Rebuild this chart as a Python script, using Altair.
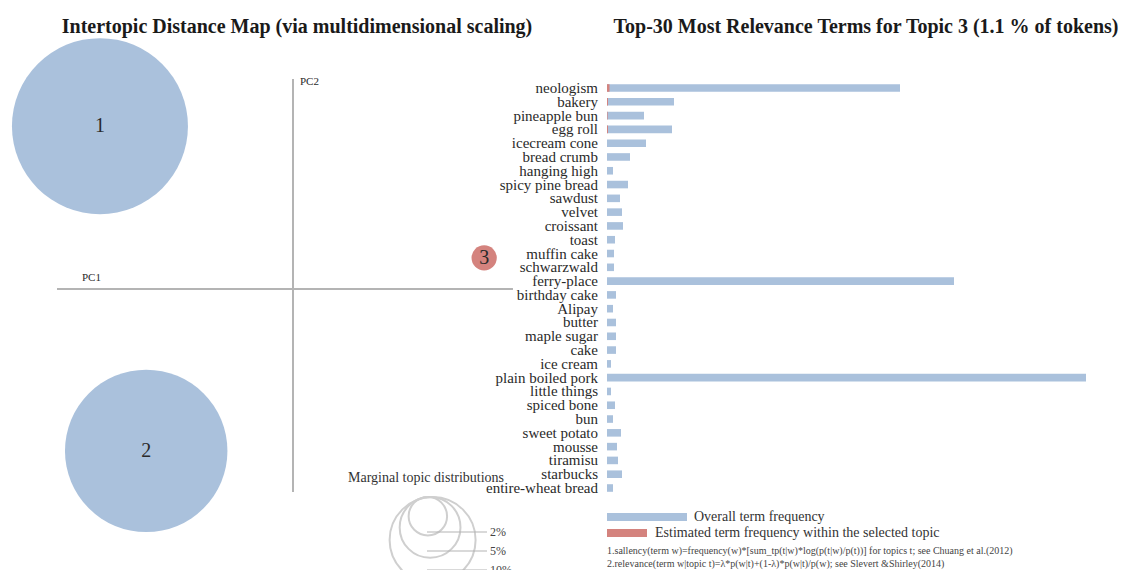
import altair as alt
import pandas as pd

# ---------------- data ----------------
topics = ["1", "2", "3"]
topic_pc1 = [-0.409, -0.311, 0.405]
topic_pc2 = [0.345, -0.343, 0.066]
topic_pct = [53.4, 45.5, 1.1]
topic_selected = [False, False, True]

terms = ["neologism", "bakery", "pineapple bun", "egg roll", "icecream cone",
         "bread crumb", "hanging high", "spicy pine bread", "sawdust", "velvet",
         "croissant", "toast", "muffin cake", "schwarzwald", "ferry-place",
         "birthday cake", "Alipay", "butter", "maple sugar", "cake",
         "ice cream", "plain boiled pork", "little things", "spiced bone", "bun",
         "sweet potato", "mousse", "tiramisu", "starbucks", "entire-wheat bread"]
overall_freq = [293, 67, 37, 65, 39, 23, 6, 21, 13, 15, 16, 8, 7, 7, 347,
                9, 6, 9, 9, 9, 4, 479, 4, 8, 6, 14, 10, 11, 15, 6]
topic_freq = [2.5, 1, 0.6, 1, 0, 0, 0, 0, 0, 0, 0, 0, 0, 0, 0,
              0, 0, 0, 0, 0, 0, 0, 0, 0, 0, 0, 0, 0, 0, 0]

legend_pcts = [2, 5, 10]
legend_labels = ["2%", "5%", "10%"]

BLUE = "#aac1dc"
RED = "#d4837e"
GREY = "#b4b4b4"
TXT = "#2a2a2a"
SERIF = "Liberation Serif"

topic_df = pd.DataFrame({"topic": topics, "PC1": topic_pc1, "PC2": topic_pc2,
                         "pct": topic_pct, "selected": topic_selected})
term_df = pd.DataFrame({"term": terms, "overall": overall_freq, "topic": topic_freq})
leg_df = pd.DataFrame({"pct": legend_pcts, "label": legend_labels,
                       "idx": list(range(len(legend_pcts)))})

# ---------------- scales ----------------
xs = alt.Scale(domain=[-0.5, 0.5], range=[57, 529])
ys = alt.Scale(domain=[-0.5, 0.5], range=[525, 53])
size_s = alt.Scale(domain=[0, 100], range=[0, 58000])
bar_x = alt.Scale(domain=[0, 480], range=[607, 1087])
bar_y = alt.Scale(domain=terms, range=[81.1, 494.9], paddingInner=0.45, paddingOuter=0.225)

# ---------------- left: intertopic distance map ----------------
axes_df = pd.DataFrame({"x": [-0.5, 0.0], "x2": [0.466, 0.0],
                        "y": [0.0, 0.445], "y2": [0.0, -0.430]})
axes = alt.Chart(axes_df).mark_rule(color=GREY, strokeWidth=2).encode(
    x=alt.X("x:Q", scale=xs, axis=None), x2="x2:Q",
    y=alt.Y("y:Q", scale=ys, axis=None), y2="y2:Q")

circles = alt.Chart(topic_df).mark_circle(opacity=1).encode(
    x=alt.X("PC1:Q", scale=xs, axis=None),
    y=alt.Y("PC2:Q", scale=ys, axis=None),
    size=alt.Size("pct:Q", scale=size_s, legend=None),
    color=alt.Color("selected:N", scale=alt.Scale(domain=[False, True], range=[BLUE, RED]), legend=None))

circle_labels = alt.Chart(topic_df).mark_text(font=SERIF, fontSize=20, color=TXT, baseline="middle").encode(
    x=alt.X("PC1:Q", scale=xs, axis=None),
    y=alt.Y("PC2:Q", scale=ys, axis=None),
    text="topic:N")

def txt(s, x, y, size, weight="normal", align="left", color="#333"):
    return alt.Chart(pd.DataFrame({"t": [s]})).mark_text(
        font=SERIF, fontSize=size, fontWeight=weight, color=color, align=align, baseline="middle").encode(
        x=alt.value(x), y=alt.value(y), text="t:N")

pc1_lab = txt("PC1", 82, 278, 11, color=TXT)
pc2_lab = txt("PC2", 300, 82, 11, color=TXT)

# legend of marginal topic distributions
leg_base = alt.Chart(leg_df).transform_calculate(
    r="43*sqrt(datum.pct/10)",
).transform_calculate(
    cx="424 + 0.2*datum.r", cy="497 + datum.r",
    ly="532 + 19*datum.idx", lx1="427", lx2="487", tx="490")

leg_circles = leg_base.mark_circle(filled=False, stroke="#cfcfcf", strokeWidth=2, opacity=1).encode(
    x=alt.X("cx:Q", scale=None), y=alt.Y("cy:Q", scale=None),
    size=alt.Size("pct:Q", scale=alt.Scale(domain=[0, 10], range=[0, 7396]), legend=None))
leg_lines = leg_base.mark_rule(color=GREY, strokeWidth=1.2).encode(
    x=alt.X("lx1:Q", scale=None), x2="lx2:Q", y=alt.Y("ly:Q", scale=None))
leg_text = leg_base.mark_text(font=SERIF, fontSize=12, color="#444", align="left", baseline="middle").encode(
    x=alt.X("tx:Q", scale=None), y=alt.Y("ly:Q", scale=None), text="label:N")
leg_title = txt("Marginal topic distributions", 348, 478, 14)

# ---------------- right: term bars ----------------
bars_overall = alt.Chart(term_df).mark_bar(color=BLUE).encode(
    x=alt.X("overall:Q", scale=bar_x, axis=None),
    y=alt.Y("term:N", scale=bar_y, sort=terms, axis=None))
bars_topic = alt.Chart(term_df).transform_filter("datum.topic > 0").mark_bar(color=RED).encode(
    x=alt.X("topic:Q", scale=bar_x, axis=None),
    y=alt.Y("term:N", scale=bar_y, sort=terms, axis=None))
term_labels = alt.Chart(term_df).mark_text(
    font=SERIF, fontSize=15, color=TXT, align="right", baseline="middle").encode(
    x=alt.value(598),
    y=alt.Y("term:N", scale=bar_y, sort=terms, axis=None),
    text="term:N")

legend_rects = alt.Chart(pd.DataFrame({"c": ["o", "e"]})).transform_calculate(
    x1="607",
    x2="datum.c == 'o' ? 687 : 647",
    y1="datum.c == 'o' ? 513 : 529",
    y2="datum.c == 'o' ? 521 : 537").mark_rect().encode(
    x=alt.X("x1:Q", scale=None), x2="x2:Q",
    y=alt.Y("y1:Q", scale=None), y2="y2:Q",
    color=alt.Color("c:N", scale=alt.Scale(domain=["o", "e"], range=[BLUE, RED]), legend=None))

leg_t1 = txt("Overall term frequency", 694, 517, 14)
leg_t2 = txt("Estimated term frequency within the selected topic", 655, 533, 14)
foot1 = txt("1.sallency(term w)=frequency(w)*[sum_tp(t|w)*log(p(t|w)/p(t))] for topics t; see Chuang et al.(2012)",
            607, 551, 10, color="#444")
foot2 = txt("2.relevance(term w|topic t)=\u03bb*p(w|t)+(1-\u03bb)*p(w|t)/p(w); see Slevert &Shirley(2014)",
            607, 564, 10, color="#444")

title_l = txt("Intertopic Distance Map (via multidimensional scaling)", 297, 27, 20, "bold", "center", "#1a1a1a")
title_r = txt("Top-30 Most Relevance Terms for Topic 3 (1.1 % of tokens)", 866, 27, 20, "bold", "center", "#1a1a1a")

chart = alt.layer(
    axes, circles, circle_labels, pc1_lab, pc2_lab,
    leg_circles, leg_lines, leg_text, leg_title,
    bars_overall, bars_topic, term_labels,
    legend_rects, leg_t1, leg_t2, foot1, foot2,
    title_l, title_r,
).resolve_scale(
    x="independent", y="independent", size="independent", color="independent"
).properties(
    width=1123, height=570, padding=0,
    autosize=alt.AutoSizeParams(type="none"),
    background="white",
).configure_view(stroke=None)

chart.save("out.html", embed_options={"renderer": "svg", "actions": False})
